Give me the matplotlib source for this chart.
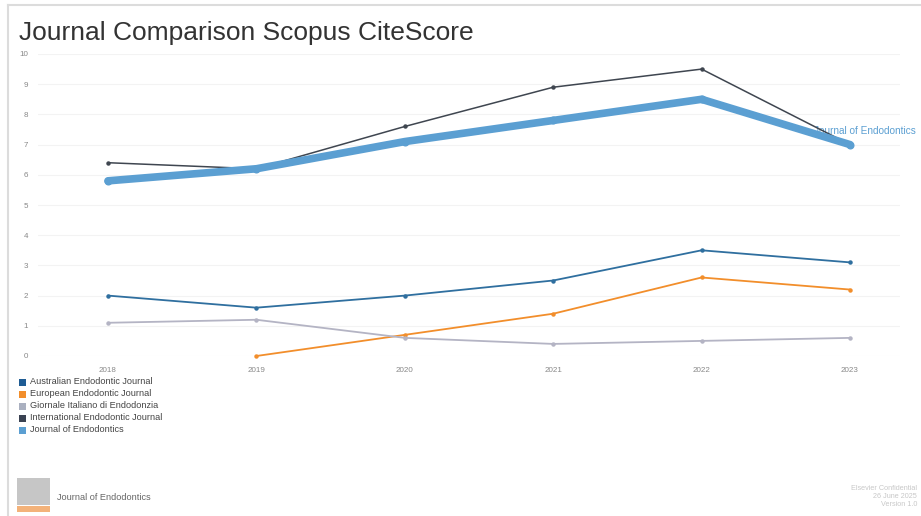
import matplotlib
matplotlib.use("Agg")
import matplotlib.pyplot as plt
from matplotlib.patches import Rectangle
from matplotlib.lines import Line2D

plt.rcParams['font.family'] = ['Liberation Sans', 'DejaVu Sans']

years = [2018, 2019, 2020, 2021, 2022, 2023]
series_names = ["Australian Endodontic Journal", "European Endodontic Journal",
                "Giornale Italiano di Endodonzia", "International Endodontic Journal",
                "Journal of Endodontics"]
australian = [2.0, 1.6, 2.0, 2.5, 3.5, 3.1]
european = [None, 0.0, 0.7, 1.4, 2.6, 2.2]
giornale = [1.1, 1.2, 0.6, 0.4, 0.5, 0.6]
international = [6.4, 6.2, 7.6, 8.9, 9.5, 7.0]
joe = [5.8, 6.2, 7.1, 7.8, 8.5, 7.0]
y_ticks = list(range(0, 11))

colors = ["#2f6f9f", "#f28e2b", "#b4b4c4", "#3f4650", "#5b9fd2"]
legend_colors = ["#1f5c94", "#f28e2b", "#aab0c0", "#3a4252", "#5b9fd2"]
widths = [1.3, 1.3, 1.3, 1.1, 5.5]
data = [australian, european, giornale, international, joe]

W, H = 921, 516
fig = plt.figure(figsize=(W / 100, H / 100), dpi=100)
fig.patch.set_facecolor("white")

# axes geometry in pixels
ax_l, ax_r, ax_t, ax_b = 38, 900, 54, 356
ax = fig.add_axes([ax_l / W, 1 - ax_b / H, (ax_r - ax_l) / W, (ax_b - ax_t) / H])
px = 5 / (850 - 108)
ax.set_xlim(2018 - (108 - ax_l) * px, 2023 + (ax_r - 850) * px)
ax.set_ylim(0, 10)
for s in ax.spines.values():
    s.set_visible(False)
ax.set_yticks(y_ticks)
ax.set_yticklabels([str(t) for t in y_ticks], fontsize=5.8, color="#888888")
ax.set_xticks(years)
ax.set_xticklabels([str(y) for y in years], fontsize=5.8, color="#888888")
ax.tick_params(length=0, pad=8)
ax.tick_params(axis='y', pad=7)
ax.grid(axis='y', color="#f3f3f3", linewidth=0.8)
ax.set_axisbelow(True)

# label for Journal of Endodontics
ax.annotate("Journal of Endodontics", xy=(years[-1], joe[-1]), xytext=(-26, 10),
            textcoords="offset points", fontsize=7.2, color="#5b9fd2",
            va="center", ha="left", zorder=1, annotation_clip=False)

for vals, c, lw, name in zip(data, colors, widths, series_names):
    xs = [y for y, v in zip(years, vals) if v is not None]
    ys = [v for v in vals if v is not None]
    ms = 4.8 if lw > 3 else 2.2
    ax.plot(xs, ys, color=c, linewidth=lw, marker="o", markersize=ms,
            markerfacecolor=c, markeredgecolor=c, clip_on=False,
            solid_joinstyle="round", solid_capstyle="round", zorder=3, label=name)

# title
fig.text(19 / W, 1 - 40 / H, "Journal Comparison Scopus CiteScore", fontsize=19,
         color="#333333", ha="left", va="baseline")

# legend (manual)
for i, (name, c) in enumerate(zip(series_names, legend_colors)):
    yc = 382 + i * 12
    fig.patches.append(Rectangle(((19) / W, 1 - (yc + 3.5) / H), 7 / W, 7 / H,
                                 transform=fig.transFigure, facecolor=c,
                                 edgecolor="none"))
    fig.text(30 / W, 1 - yc / H, name, fontsize=6.6, color="#444444",
             ha="left", va="center")

# frame lines
fig.add_artist(Line2D([8 / W, 1], [1 - 5 / H, 1 - 5 / H], transform=fig.transFigure,
                      color="#dcdcdc", linewidth=1.5))
fig.add_artist(Line2D([8 / W, 8 / W], [0, 1 - 5 / H], transform=fig.transFigure,
                      color="#dcdcdc", linewidth=1.5))

# footer logo and text
fig.patches.append(Rectangle((17 / W, 1 - 505 / H), 33 / W, 27 / H,
                             transform=fig.transFigure, facecolor="#b8b8b8",
                             edgecolor="none", alpha=0.8))
fig.patches.append(Rectangle((17 / W, 1 - 512 / H), 33 / W, 6 / H,
                             transform=fig.transFigure, facecolor="#f3b27a",
                             edgecolor="none"))
fig.text(57 / W, 1 - 497 / H, "Journal of Endodontics", fontsize=6.6,
         color="#666666", ha="left", va="center")
for j, t in enumerate(["Elsevier Confidential", "26 June 2025", "Version 1.0"]):
    fig.text(917 / W, 1 - (488 + j * 8) / H, t, fontsize=5.2, color="#c8c8c8",
             ha="right", va="center")

fig.savefig("out.png", dpi=100, facecolor="white")
